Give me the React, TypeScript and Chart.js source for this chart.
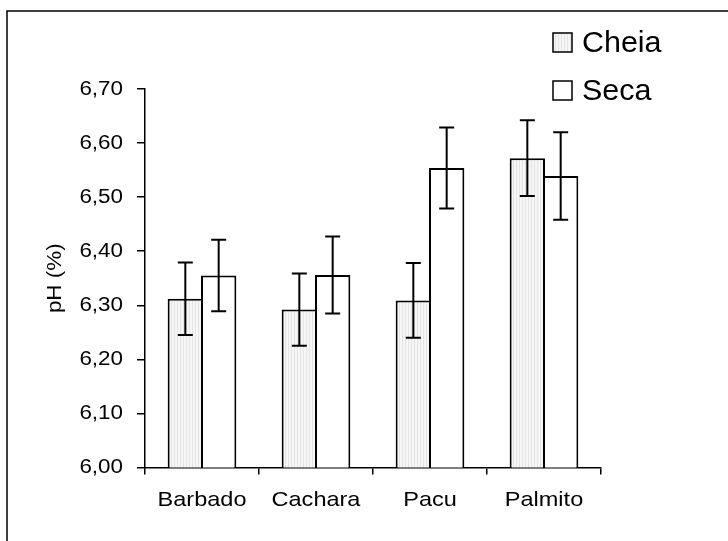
import React, { useEffect, useRef } from 'react';
import { Chart, registerables } from 'chart.js';

Chart.register(...registerables);

const categories = ['Barbado', 'Cachara', 'Pacu', 'Palmito'];
const seriesNames = ['Cheia', 'Seca'];
const cheiaValues = [6.312, 6.292, 6.309, 6.572];
const cheiaErrors = [0.067, 0.067, 0.069, 0.07];
const secaValues = [6.355, 6.356, 6.554, 6.539];
const secaErrors = [0.066, 0.071, 0.075, 0.081];
const yMin = 6.0;
const yMax = 6.7;
const yStep = 0.1;
const yTitle = 'pH (%)';

const FONT = "'Liberation Sans', Arial, sans-serif";
const AXIS_TEXT_STRETCH = 1.12;
const LEGEND_TEXT_STRETCH = 1.05;

function makePattern(ctx: CanvasRenderingContext2D) {
  const c = document.createElement('canvas');
  c.width = 3;
  c.height = 1;
  const p = c.getContext('2d')!;
  p.fillStyle = '#f6f6f6';
  p.fillRect(0, 0, 3, 1);
  p.fillStyle = '#e4e4e4';
  p.fillRect(0, 0, 1, 1);
  return ctx.createPattern(c, 'repeat') as CanvasPattern;
}

const errorBarPlugin = {
  id: 'errorBars',
  afterDatasetsDraw(chart: any) {
    const ctx = chart.ctx;
    const y = chart.scales.y;
    chart.data.datasets.forEach((ds: any, di: number) => {
      const meta = chart.getDatasetMeta(di);
      meta.data.forEach((bar: any, i: number) => {
        const v = ds.data[i];
        const e = ds.errors[i];
        const x = bar.x;
        const yt = y.getPixelForValue(v + e);
        const yb = y.getPixelForValue(v - e);
        ctx.save();
        ctx.strokeStyle = '#000';
        ctx.lineWidth = 2;
        ctx.beginPath();
        ctx.moveTo(x, yt);
        ctx.lineTo(x, yb);
        ctx.moveTo(x - 7.5, yt);
        ctx.lineTo(x + 7.5, yt);
        ctx.moveTo(x - 7.5, yb);
        ctx.lineTo(x + 7.5, yb);
        ctx.stroke();
        ctx.restore();
      });
    });
  },
};

export default function App() {
  const ref = useRef<HTMLCanvasElement | null>(null);

  useEffect(() => {
    const canvas = ref.current!;
    const ctx = canvas.getContext('2d')!;
    const stretch = { value: AXIS_TEXT_STRETCH };
    const origFill = ctx.fillText.bind(ctx);
    (ctx as any).fillText = (text: string, x: number, y: number, maxWidth?: number) => {
      ctx.save();
      ctx.translate(x, y);
      ctx.scale(stretch.value, 1);
      if (maxWidth === undefined) origFill(text, 0, 0);
      else origFill(text, 0, 0, maxWidth);
      ctx.restore();
    };

    const legendAndFramePlugin = {
      id: 'legendFrame',
      afterDraw(chart: any) {
        const c = chart.ctx;
        c.save();
        c.strokeStyle = '#000';
        c.lineWidth = 1.5;
        c.strokeRect(7, 11, 1000, 1000);
        const bx = 553;
        const by = 33;
        const gap = 48;
        const size = 19;
        c.font = `29px ${FONT}`;
        c.textBaseline = 'middle';
        c.textAlign = 'left';
        stretch.value = LEGEND_TEXT_STRETCH;
        chart.data.datasets.forEach((ds: any, i: number) => {
          const top = by + i * gap;
          c.fillStyle = ds.backgroundColor;
          c.fillRect(bx, top, size, size);
          c.lineWidth = 1.5;
          c.strokeStyle = '#000';
          c.strokeRect(bx, top, size, size);
          c.fillStyle = '#000';
          c.fillText(ds.label, bx + 29, top + size / 2 + 1);
        });
        stretch.value = AXIS_TEXT_STRETCH;
        c.restore();
      },
    };

    const pattern = makePattern(ctx);
    const chart = new Chart(canvas, {
      type: 'bar',
      data: {
        labels: categories,
        datasets: [
          {
            label: seriesNames[0],
            data: cheiaValues,
            errors: cheiaErrors,
            backgroundColor: pattern,
            borderColor: '#000',
            borderWidth: 2,
            barPercentage: 1.06,
            categoryPercentage: 0.585,
          } as any,
          {
            label: seriesNames[1],
            data: secaValues,
            errors: secaErrors,
            backgroundColor: '#ffffff',
            borderColor: '#000',
            borderWidth: 2,
            barPercentage: 1.06,
            categoryPercentage: 0.585,
          } as any,
        ],
      },
      options: {
        responsive: false,
        animation: false,
        devicePixelRatio: 1,
        layout: { padding: { left: 0, top: 89, right: 127, bottom: 23.5 } },
        plugins: {
          legend: { display: false },
          tooltip: { enabled: false },
        },
        scales: {
          x: {
            afterFit: (s: any) => {
              s.height = 50;
            },
            grid: {
              offset: true,
              drawOnChartArea: false,
              drawTicks: true,
              tickLength: 7,
              color: '#000',
              lineWidth: 1.5,
            },
            border: { display: true, color: '#000', width: 1.5 },
            ticks: {
              color: '#000',
              padding: 13,
              font: { family: FONT, size: 21 },
            },
          },
          y: {
            min: yMin,
            max: yMax,
            afterFit: (s: any) => {
              s.width = 145;
            },
            ticks: {
              stepSize: yStep,
              color: '#000',
              padding: 14,
              font: { family: FONT, size: 20 },
              callback: (v: any) => Number(v).toFixed(2).replace('.', ','),
            },
            grid: {
              drawOnChartArea: false,
              drawTicks: true,
              tickLength: 8,
              color: '#000',
              lineWidth: 1.5,
            },
            border: { display: true, color: '#000', width: 1.5 },
            title: {
              display: true,
              text: yTitle,
              color: '#000',
              font: { family: FONT, size: 20 },
              padding: { top: 43, bottom: 0 },
            },
          },
        },
      },
      plugins: [errorBarPlugin, legendAndFramePlugin],
    });
    return () => chart.destroy();
  }, []);

  return (
    <div style={{ position: 'fixed', left: 0, top: 0, width: 728, height: 541, background: '#fff' }}>
      <canvas ref={ref} width={728} height={541} style={{ display: 'block' }} />
    </div>
  );
}
